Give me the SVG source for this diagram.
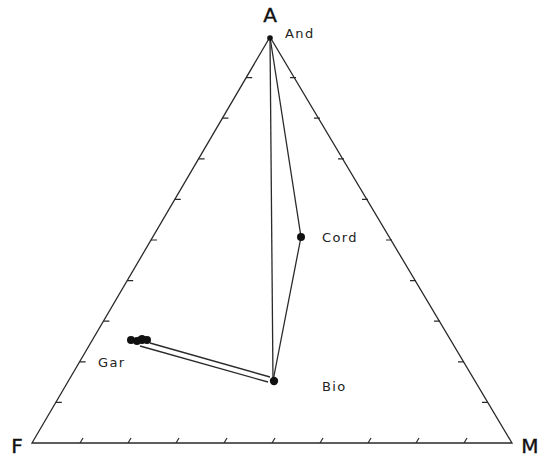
<svg xmlns="http://www.w3.org/2000/svg" width="544" height="457" viewBox="0 0 544 457">
<style>
.ln{fill:none;stroke:#2a2a2a;stroke-width:1.3}
.tk{fill:none;stroke:#2a2a2a;stroke-width:1.2}
.big{font-family:"DejaVu Sans","Liberation Sans",sans-serif;font-size:20px;fill:#111;stroke:#111;stroke-width:0.4}
.lbl{font-family:"DejaVu Sans","Liberation Sans",sans-serif;font-size:13px;fill:#222;letter-spacing:1.4px}
.dot{fill:#111}
</style>
<rect width="544" height="457" fill="#fff"/>
<g id="triangle">
<path class="ln" d="M270,37 L32,443 L512,443 Z"/>
</g>
<g id="ticks">
<path class="tk" d="M80,443 l3,-5 M128,443 l3,-5 M176,443 l3,-5 M224,443 l3,-5 M272,443 l3,-5 M320,443 l3,-5 M368,443 l3,-5 M416,443 l3,-5 M464,443 l3,-5"/>
<path class="tk" d="M55.8,402.4 h6 M79.6,361.8 h6 M103.4,321.2 h6 M127.2,280.6 h6 M151,240 h6 M174.8,199.4 h6 M198.6,158.8 h6 M222.4,118.2 h6 M246.2,77.6 h6"/>
<path class="tk" d="M488,402.4 h-6 M464,361.8 h-6 M440,321.2 h-6 M416,280.6 h-6 M392,240 h-6 M368,199.4 h-6 M344,158.8 h-6 M320,118.2 h-6 M296,77.6 h-6"/>
</g>
<g id="connectors">
<path class="ln" d="M270,37 L273,381"/>
<path class="ln" d="M270,37 L301,237 L273,381"/>
<path class="ln" d="M150,343 L270,377"/>
<path class="ln" d="M140,346 L268,382"/>
</g>
<g id="node-A"><text class="big" x="270" y="22" text-anchor="middle">A</text></g>
<g id="node-F"><text class="big" x="17" y="453" text-anchor="middle">F</text></g>
<g id="node-M"><text class="big" x="530" y="453" text-anchor="middle">M</text></g>
<g id="node-And"><circle class="dot" cx="270" cy="38" r="2.8"/><text class="lbl" x="285" y="38">And</text></g>
<g id="node-Cord"><circle class="dot" cx="301" cy="237" r="4"/><text class="lbl" x="322" y="242">Cord</text></g>
<g id="node-Bio"><circle class="dot" cx="274" cy="381" r="4.2"/><text class="lbl" x="322" y="391">Bio</text></g>
<g id="node-Gar">
<circle class="dot" cx="131" cy="340" r="4"/>
<circle class="dot" cx="137" cy="341" r="4"/>
<circle class="dot" cx="142" cy="339.5" r="4.5"/>
<circle class="dot" cx="147" cy="340" r="4"/>
<text class="lbl" x="98" y="367">Gar</text>
</g>
</svg>
